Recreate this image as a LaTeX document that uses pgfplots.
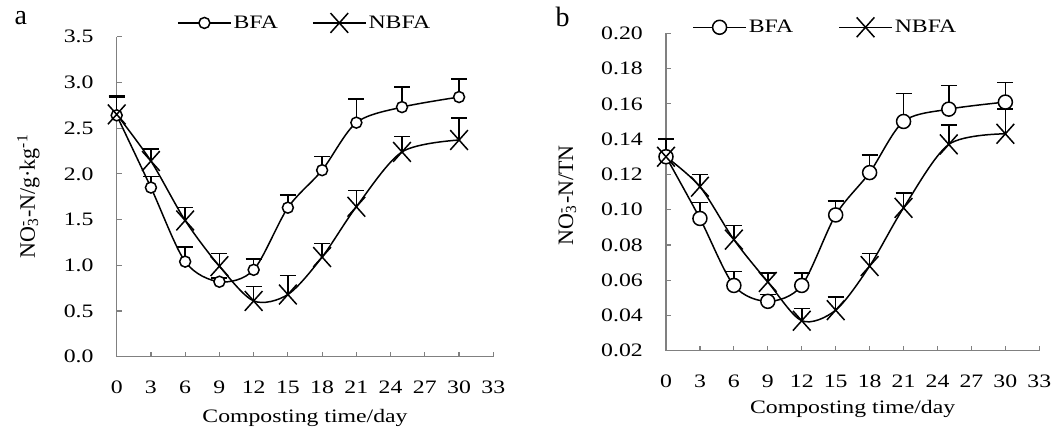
\documentclass[border=0pt]{standalone}
\usepackage{fontspec}
\setmainfont{Liberation Serif}[FakeStretch=1.25]
\newfontfamily\plainserif{Liberation Serif}
\usepackage{graphicx}
\usepackage{pgfplots}
\pgfplotsset{compat=1.18}

\newcommand\ticksize{\fontsize{19pt}{22pt}\selectfont}
\newcommand\ylabsize{\plainserif\fontsize{22pt}{26pt}\selectfont}
\newcommand\panelsize{\plainserif\fontsize{28pt}{32pt}\selectfont}

\pgfplotsset{
  compost/.style={
    scale only axis, xmin=0, xmax=33, xtick={0,3,...,33},
    axis lines*=left,
    axis line style={draw=gray, line width=1.2pt},
    tick align=inside, major tick length=5pt,
    tick style={draw=gray, line width=1.2pt},
    /pgf/number format/assume math mode=true,
    tick label style={font=\ticksize},
    xticklabel style={anchor=center, yshift=-31pt},
    yticklabel style={anchor=east, inner sep=0pt, xshift=-23pt},
    every axis x label/.style={at={(axis description cs:0.5,0)}, anchor=base, font=\ticksize},
    every axis y label/.style={rotate=90, anchor=base, font=\ylabsize},
    clip=false,
    legend columns=2,
    legend style={draw=none, fill=none, inner sep=0pt, anchor=west, font=\ticksize},
    legend image code/.code={\draw[mark repeat=2,mark phase=2,##1]
      plot coordinates {(0pt,0pt)(26.5pt,0pt)(53pt,0pt)};},
    every axis plot/.append style={black, line width=1.5pt, smooth, tension=0.5},
    error bars/y dir=plus, error bars/y explicit,
    error bars/error bar style={line width=1.5pt},
    error bars/error mark options={rotate=90, line width=1.5pt, mark size=8pt},
  },
  bfa/.style={mark=*, mark size=#1, mark options={fill=white, draw=black, line width=1.5pt}},
  nbfa/.style={mark=x, mark size=12.5pt, mark options={yscale=1.12, line width=1.5pt}},
}

\begin{document}
\begin{tikzpicture}

% (a) nitrate content
\begin{axis}[compost,
  at={(116.7pt,75.3pt)}, anchor=south west,
  width=376.6pt, height=320pt,
  ymin=0, ymax=3.5,
  ytick={0,0.5,1,1.5,2,2.5,3,3.5},
  yticklabels={0.0,0.5,1.0,1.5,2.0,2.5,3.0,3.5},
  xlabel={Composting time/day},
  xlabel style={yshift=-66pt},
  ylabel={NO\rlap{\textsubscript{3}}\textsuperscript{-}\,-N/g·kg\textsuperscript{-1}},
  ylabel style={at={(axis description cs:-0.217,0.5)}},
  legend style={at={(axis description cs:0.160,1.043)},
    /tikz/every even column/.append style={column sep=32pt}},
]
\addplot[bfa=5.5pt] table[x=d, y=v, y error=e] {
d  v    e
0  2.64 0.20
3  1.85 0.12
6  1.04 0.16
9  0.82 0.04
12 0.95 0.12
15 1.63 0.14
18 2.04 0.15
21 2.56 0.26
25 2.73 0.22
30 2.84 0.20
};
\addlegendentry{BFA}
\addplot[nbfa] table[x=d, y=v, y error=e] {
d  v    e
0  2.65 0.20
3  2.14 0.13
6  1.49 0.14
9  0.99 0.14
12 0.61 0.16
15 0.68 0.21
18 1.09 0.15
21 1.64 0.18
25 2.24 0.17
30 2.37 0.24
};
\addlegendentry{NBFA}
\end{axis}

% (b) nitrate to total nitrogen ratio
\begin{axis}[compost,
  at={(666pt,81.3pt)}, anchor=south west,
  width=373.3pt, height=317.4pt,
  ymin=0.02, ymax=0.2,
  ytick={0.02,0.04,0.06,0.08,0.10,0.12,0.14,0.16,0.18,0.20},
  yticklabels={0.02,0.04,0.06,0.08,0.10,0.12,0.14,0.16,0.18,0.20},
  xlabel={Composting time/day},
  xlabel style={yshift=-63pt},
  ylabel={NO\rlap{\textsubscript{3}}\textsuperscript{-}\,-N/TN},
  ylabel style={at={(axis description cs:-0.249,0.49)}},
  legend style={at={(axis description cs:0.070,1.019)},
    /tikz/every even column/.append style={column sep=43pt}},
]
\addplot[bfa=7pt] table[x=d, y=v, y error=e] {
d  v     e
0  0.130 0.010
3  0.095 0.009
6  0.057 0.008
9  0.048 0.004
12 0.057 0.007
15 0.097 0.008
18 0.121 0.010
21 0.150 0.016
25 0.157 0.0135
30 0.161 0.011
};
\addlegendentry{BFA}
\addplot[nbfa] table[x=d, y=v, y error=e] {
d  v     e
0  0.130 0.010
3  0.113 0.007
6  0.083 0.008
9  0.059 0.005
12 0.037 0.007
15 0.043 0.0075
18 0.068 0.007
21 0.101 0.0085
25 0.137 0.011
30 0.143 0.014
};
\addlegendentry{NBFA}
\end{axis}

\node[anchor=base west, font=\panelsize] at (11pt,407pt) {a};
\node[anchor=base west, font=\panelsize] at (552pt,405pt) {b};

\pgfresetboundingbox
\path[use as bounding box] (0pt,0pt) rectangle (1052pt,432pt);
\end{tikzpicture}
\end{document}
